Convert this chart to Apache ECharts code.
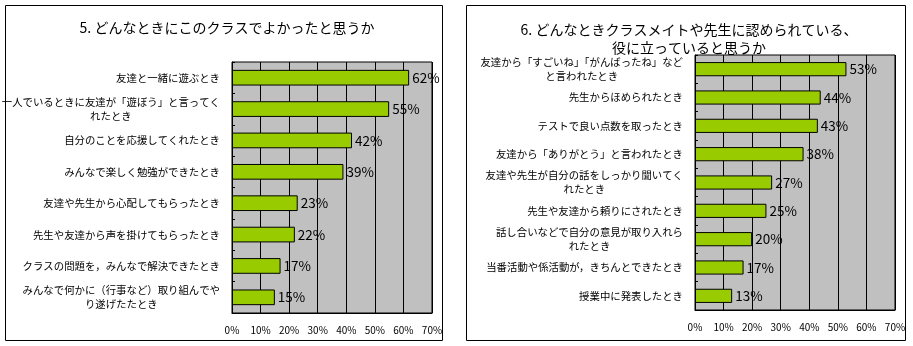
<!DOCTYPE html>
<html>
<head>
<meta charset="utf-8">
<script src="https://cdn.jsdelivr.net/npm/echarts@6/dist/echarts.min.js"></script>
<style>
html,body{margin:0;padding:0;background:#fff;}
#c{width:913px;height:346px;}
</style>
</head>
<body>
<div id="c"></div>
<script>
const title5 = "5. どんなときにこのクラスでよかったと思うか";
const title6 = "6. どんなときクラスメイトや先生に認められている、\n役に立っていると思うか";
const cats5 = [
  "友達と一緒に遊ぶとき",
  "一人でいるときに友達が「遊ぼう」と言ってく\nれたとき",
  "自分のことを応援してくれたとき",
  "みんなで楽しく勉強ができたとき",
  "友達や先生から心配してもらったとき",
  "先生や友達から声を掛けてもらったとき",
  "クラスの問題を，みんなで解決できたとき",
  "みんなで何かに（行事など）取り組んでや\nり遂げたたとき"
];
const vals5 = [62, 55, 42, 39, 23, 22, 17, 15];
const cats6 = [
  "友達から「すごいね」「がんばったね」など\nと言われたとき",
  "先生からほめられたとき",
  "テストで良い点数を取ったとき",
  "友達から「ありがとう」と言われたとき",
  "友達や先生が自分の話をしっかり聞いてく\nれたとき",
  "先生や友達から頼りにされたとき",
  "話し合いなどで自分の意見が取り入れら\nれたとき",
  "当番活動や係活動が，きちんとできたとき",
  "授業中に発表したとき"
];
const vals6 = [53, 44, 43, 38, 27, 25, 20, 17, 13];
const xTicks = [0, 10, 20, 30, 40, 50, 60, 70];

const FONT = "'Noto Sans CJK JP', sans-serif";
const LABEL_SIZE = 10.4;
const chart = echarts.init(document.getElementById('c'), null, {renderer: 'canvas'});

const measureCtx = document.createElement('canvas').getContext('2d');
measureCtx.font = LABEL_SIZE + 'px ' + FONT;
const textW = s => measureCtx.measureText(s).width;

function xAxis(gi) {
  return {
    gridIndex: gi, type: 'value', min: xTicks[0], max: xTicks[xTicks.length - 1], interval: 10,
    axisLine: {show: true, lineStyle: {color: '#000', width: 1}},
    axisTick: {show: false},
    splitLine: {show: true, lineStyle: {color: '#000', width: 1}},
    axisLabel: {formatter: '{value}%', fontSize: 10, color: '#000', margin: 12, fontFamily: FONT}
  };
}
function yAxis(gi, cats) {
  const base = {fontSize: LABEL_SIZE, lineHeight: 14, fontFamily: FONT, color: '#000'};
  const rich = {r: Object.assign({}, base)};
  cats.forEach((c, i) => {
    const lines = c.split('\n');
    if (lines.length > 1) {
      const pad = Math.max(0, (textW(lines[0]) - textW(lines[1])) / 2);
      rich['p' + i] = Object.assign({}, base, {padding: [0, pad, 0, 0]});
    }
  });
  return {
    gridIndex: gi, type: 'category', data: cats, inverse: true,
    axisLine: {show: true, lineStyle: {color: '#000', width: 1}},
    axisTick: {show: true, inside: true, length: 3, lineStyle: {color: '#000'}},
    splitLine: {show: false},
    axisLabel: {
      fontSize: LABEL_SIZE, color: '#000', margin: 12, lineHeight: 14, fontFamily: FONT, align: 'right',
      formatter: (v, idx) => {
        const lines = v.split('\n');
        if (lines.length > 1) return '{r|' + lines[0] + '}\n{p' + idx + '|' + lines[1] + '}';
        return '{r|' + v + '}';
      },
      rich: rich
    }
  };
}
function bar(i, vals) {
  return {
    type: 'bar', xAxisIndex: i, yAxisIndex: i, data: vals,
    barCategoryGap: '50%',
    itemStyle: {color: '#99CC00', borderColor: '#000', borderWidth: 1},
    label: {show: true, position: 'right', distance: 3, formatter: '{c}%', fontSize: 13.5, color: '#000', fontFamily: FONT},
    silent: true, animation: false
  };
}

chart.setOption({
  animation: false,
  backgroundColor: '#fff',
  title: [
    {text: title5, left: 222, top: 16, textAlign: 'center',
     textStyle: {fontSize: 14, fontWeight: 'normal', color: '#000', fontFamily: FONT}},
    {text: title6, left: 684, top: 16, textAlign: 'center',
     textStyle: {fontSize: 14, fontWeight: 'normal', color: '#000', fontFamily: FONT, lineHeight: 18, align: 'center'}}
  ],
  graphic: [
    {type: 'rect', shape: {x: 5.5, y: 5.5, width: 437, height: 335}, style: {fill: null, stroke: '#000', lineWidth: 1}, silent: true},
    {type: 'rect', shape: {x: 466.5, y: 5.5, width: 439, height: 335}, style: {fill: null, stroke: '#000', lineWidth: 1}, silent: true}
  ],
  grid: [
    {left: 232, top: 62, width: 200, height: 251, show: true, backgroundColor: '#C0C0C0', borderColor: '#000', borderWidth: 1, containLabel: false, outerBoundsMode: 'none'},
    {left: 695, top: 55, width: 200, height: 255, show: true, backgroundColor: '#C0C0C0', borderColor: '#000', borderWidth: 1, containLabel: false, outerBoundsMode: 'none'}
  ],
  xAxis: [xAxis(0), xAxis(1)],
  yAxis: [yAxis(0, cats5), yAxis(1, cats6)],
  series: [bar(0, vals5), bar(1, vals6)]
});
</script>
</body>
</html>
